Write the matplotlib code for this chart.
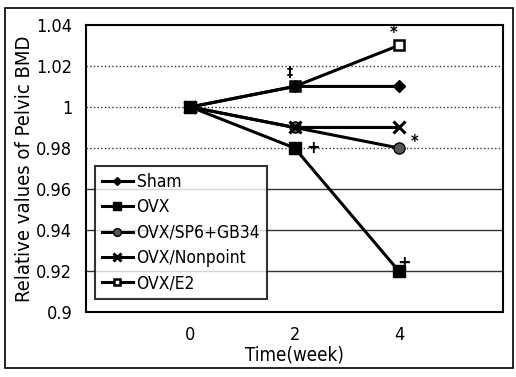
import matplotlib.pyplot as plt
from matplotlib.patches import Rectangle

plt.rcParams['font.family'] = ['DejaVu Sans']
plt.rcParams['font.stretch'] = 'condensed'

# data
weeks = [0, 2, 4]
sham = [1.00, 1.01, 1.01]
ovx = [1.00, 0.98, 0.92]
sp6_gb34 = [1.00, 0.99, 0.98]
nonpoint = [1.00, 0.99, 0.99]
e2 = [1.00, 1.01, 1.03]
y_ticks = [0.9, 0.92, 0.94, 0.96, 0.98, 1.0, 1.02, 1.04]
y_tick_labels = ['0.9', '0.92', '0.94', '0.96', '0.98', '1', '1.02', '1.04']

fig = plt.figure(figsize=(5.16, 3.77), dpi=100)
ax = fig.add_axes([0.167, 0.172, 0.808, 0.762])

# outer frame of the figure
fig.patches.append(Rectangle((0.01, 0.025), 0.985, 0.955, transform=fig.transFigure,
                             fill=False, lw=1.2, ec='black'))

# gridlines
for y in y_ticks[1:-1]:
    style = ':' if y >= 0.98 else '-'
    ax.axhline(y, color='#333333', lw=1.0, ls=style, zorder=1)

kw = dict(color='black', lw=2.2)
ax.plot(weeks, sham, marker='D', ms=6, label='Sham', zorder=7, **kw)
ax.plot(weeks, ovx, marker='s', ms=8, label='OVX', zorder=8, **kw)
ax.plot(weeks, sp6_gb34, marker='o', ms=8, mfc='#555555', label='OVX/SP6+GB34', zorder=5, **kw)
ax.plot(weeks, nonpoint, marker='x', ms=8, mew=2.2, label='OVX/Nonpoint', zorder=6, **kw)
ax.plot(weeks, e2, marker='s', ms=7, mfc='white', mew=1.8, label='OVX/E2', zorder=4, **kw)

# significance marks
ax.text(weeks[2] - 0.1, e2[2] + 0.006, '*', ha='center', va='center', fontsize=12, fontweight='bold')
ax.text(weeks[1] - 0.1, sham[1] + 0.007, '‡', ha='center', va='center', fontsize=10, fontweight='bold')
ax.text(weeks[2] + 0.3, sp6_gb34[2] + 0.003, '*', ha='center', va='center', fontsize=12, fontweight='bold')
ax.text(weeks[1] + 0.35, ovx[1], '+', ha='center', va='center', fontsize=13, fontweight='bold')
ax.text(weeks[2] + 0.1, ovx[2] + 0.004, '+', ha='center', va='center', fontsize=13, fontweight='bold')

ax.set_xlim(-2, 6)
ax.set_ylim(0.9, 1.04)
ax.set_xticks(weeks)
ax.set_xticklabels([str(w) for w in weeks])
ax.set_yticks(y_ticks)
ax.set_yticklabels(y_tick_labels)
ax.tick_params(length=0, labelsize=13, pad=10)
ax.tick_params(axis='x', pad=10)
for s in ax.spines.values():
    s.set_linewidth(1.5)

ax.set_ylabel('Relative values of Pelvic BMD', fontsize=14.5, labelpad=2)
ax.set_xlabel('Time(week)', fontsize=13.5, labelpad=1)

leg = ax.legend(loc='lower left', bbox_to_anchor=(0.0, 0.015), fontsize=12.5,
                frameon=True, fancybox=False, edgecolor='black', handlelength=1.8,
                handletextpad=0.2, labelspacing=0.42, borderpad=0.4, markerscale=0.7)
leg.get_frame().set_linewidth(1.5)
leg.set_zorder(10)

fig.savefig('out.png', dpi=100)
